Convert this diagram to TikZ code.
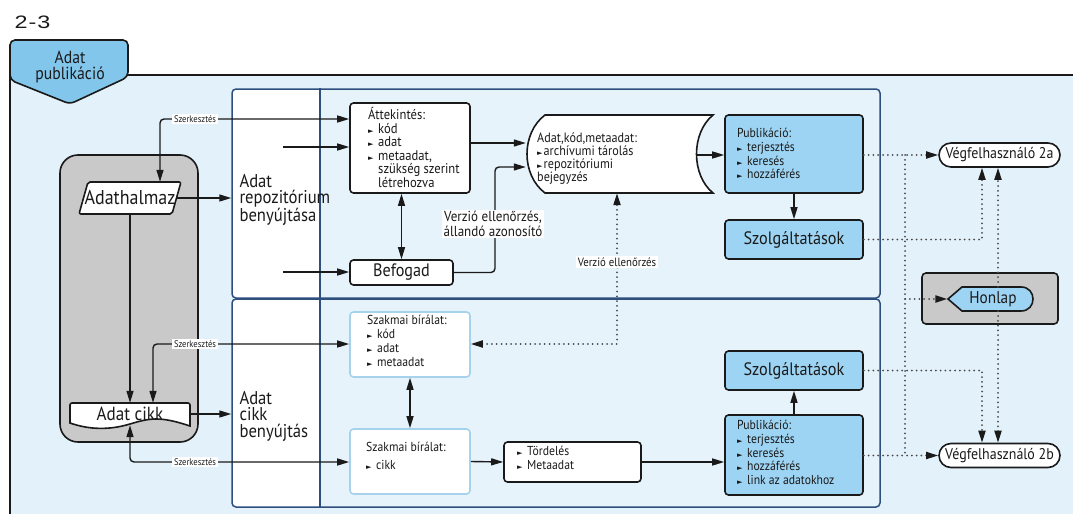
\documentclass[tikz,border=0pt]{standalone}
\usepackage{fontspec}
\setmainfont{PT Sans}[FakeStretch=0.9]
\newfontfamily\symf{DejaVu Sans}
\newfontfamily\numf{Liberation Sans}[FakeStretch=1.3]
\usetikzlibrary{arrows.meta,calc}
\definecolor{bgblue}{HTML}{E3F1FA}
\definecolor{bandbg}{HTML}{E6F3FB}
\definecolor{tabblue}{HTML}{82C6EC}
\definecolor{pubblue}{HTML}{9DD4F3}
\definecolor{grayf}{HTML}{C9C9C9}
\definecolor{bandc}{HTML}{2E4F7E}
\definecolor{szbord}{HTML}{A6D2EC}
\definecolor{linec}{HTML}{1A1A1A}
\definecolor{dotc}{HTML}{4A4A4A}
\newcommand\bul{\makebox[10pt][l]{\symf\fontsize{7}{7}\selectfont ►}}
\newcommand\bult{\makebox[6.5pt][l]{\symf\fontsize{7}{7}\selectfont ►}}
\newcommand\fsz[2]{\fontsize{#1}{#2}\selectfont}
\begin{document}
\begin{tikzpicture}[x=1pt,y=-1pt,
 every node/.style={text=linec},
 box/.style={draw=linec, line width=1.6pt, rounded corners=3.5pt, fill=white, inner sep=0pt},
 bluebox/.style={box, fill=pubblue},
 szbox/.style={box, draw=szbord},
 ghost/.style={inner sep=0pt, draw=none, fill=none},
 shp/.style={draw=linec, line width=1.6pt, fill=white},
 arr/.style={draw=linec, line width=1.4pt, -{Triangle[length=12pt,width=7pt]}},
 arrb/.style={draw=linec, line width=1.4pt, {Triangle[length=12pt,width=7pt]}-{Triangle[length=12pt,width=7pt]}},
 dots/.style={draw=dotc, line width=2pt, line cap=round, dash pattern=on 0pt off 4.8pt},
 dotarr/.style={dots, -{Triangle[length=12pt,width=7pt,color=linec]}},
 dotarrb/.style={dots, {Triangle[length=12pt,width=7pt,color=linec]}-{Triangle[length=12pt,width=7pt,color=linec]}},
 lbl/.style={fill=white, inner xsep=2pt, inner ysep=1.5pt},
 btxt/.style={ghost, anchor=west, align=left, font=\fsz{13}{13.8}},
 bandst/.style={draw=bandc, line width=1.5pt, rounded corners=4pt, inner sep=0pt},
]
\useasboundingbox (0,0) rectangle (1073,514);
% outer frame
\fill[bgblue] (10,75) rectangle (1073,514);
\draw[draw=linec, line width=1.6pt] (10,514) -- (10,75) -- (1073,75);
\node[anchor=base west, font=\numf\fsz{18}{18}] (fig) at (11,28) {2\kern1pt-\kern1pt3};
% tab
\draw[draw=linec, line width=1.6pt, fill=tabblue, rounded corners=5pt] (10,80) -- (10,40) -- (128,40) -- (128,77) -- (70,104) -- cycle;
\node[align=center, font=\fsz{17.5}{15.5}] (tab) at (70,67) {Adat\\publikáció};
% bands
\begin{scope}
\clip[rounded corners=4pt] (232,89) rectangle (880,298);
\fill[bandbg] (232,89) rectangle (880,298);
\fill[white] (232,89) rectangle (320,298);
\end{scope}
\begin{scope}
\clip[rounded corners=4pt] (232,299) rectangle (880,507);
\fill[bandbg] (232,299) rectangle (880,507);
\fill[white] (232,299) rectangle (320,507);
\end{scope}
\node[bandst, minimum width=648, minimum height=209] (band1) at (556,193.5) {};
\node[bandst, minimum width=648, minimum height=208] (band2) at (556,403) {};
\draw[draw=bandc, line width=1.5pt] (band1.north west -| 320,0) -- (band2.south west -| 320,0);
\node[anchor=west, align=left, font=\fsz{18.5}{16.5}] (bl1) at (236,200) {Adat\\repozitórium\\benyújtása};
\node[anchor=west, align=left, font=\fsz{18.5}{16.5}] (bl2) at (236,416) {Adat\\cikk\\benyújtás};
% gray container
\draw[draw=linec, line width=1.6pt, fill=grayf, rounded corners=18pt] (60,155) rectangle (198,442);
\draw[shp, rounded corners=2pt] (79,214) -- (88,182) -- (181,182) -- (172,214) -- cycle;
\node[ghost, minimum width=92, minimum height=32, font=\fsz{20}{20}] (adh) at (130,198) {Adathalmaz};
\draw[shp] (190,426) .. controls (160,416) and (150,418) .. (130,424) .. controls (110,430) and (90,430) .. (70,423) -- (70,405) [rounded corners=2pt] -- (70,403) -- (190,403) [sharp corners] -- cycle;
\node[ghost, minimum width=120, minimum height=22, font=\fsz{19}{19}] (cikk) at (130,414) {Adat cikk};
% top band boxes
\node[box, minimum width=120, minimum height=90] (att) at (410,148) {};
\node[btxt, font=\fsz{14}{13.6}] (attt) at (368,147.5) {Áttekintés:\\\bul kód\\\bul adat\\\bul metaadat,\\\hspace*{10pt}szükség szerint\\\hspace*{10pt}létrehozva};
\node[box, minimum width=103, minimum height=25, font=\fsz{18}{18}] (bef) at (401.5,272.5) {Befogad};
\draw[shp] (545,115) -- (713,115) .. controls (691,133) and (691,175) .. (713,193) -- (545,193) .. controls (521,175) and (521,133) .. (545,115) -- cycle;
\node[ghost, minimum width=187, minimum height=78] (cyl) at (619.5,154) {};
\node[btxt, font=\fsz{13.5}{13}] (cylt) at (537,158.5) {Adat,kód,metaadat:\\\bult archívumi tárolás\\\bult repozitóriumi\\bejegyzés};
\node[bluebox, minimum width=138, minimum height=78] (pub1) at (794,154) {};
\node[btxt] (pub1t) at (737,153.5) {Publikáció:\\\bul terjesztés\\\bul keresés\\\bul hozzáférés};
\node[bluebox, minimum width=138, minimum height=39, font=\fsz{18}{18}] (szo1) at (794,239.5) {Szolgáltatások};
% right side
\node[draw=linec, fill=white, line width=1.6pt, rounded corners=12pt, minimum width=121, minimum height=24, inner sep=0pt, font=\fsz{15.5}{15.5}] (v2a) at (999.5,155) {Végfelhasználó 2a};
\node[draw=linec, fill=white, line width=1.6pt, rounded corners=12pt, minimum width=121, minimum height=24, inner sep=0pt, font=\fsz{15.5}{15.5}] (v2b) at (999.5,455.5) {Végfelhasználó 2b};
\node[draw=linec, fill=grayf, line width=1.6pt, rounded corners=4pt, minimum width=136, minimum height=51, inner sep=0pt] (hgray) at (990,298.5) {};
\draw[draw=linec, line width=1.6pt, fill=pubblue] (948,299) -- (962,287) -- (1021,287) .. controls (1037,287) and (1037,311) .. (1021,311) -- (962,311) -- cycle;
\node[ghost, minimum width=85, minimum height=24, font=\fsz{17}{17}] (hon) at (990,299) {\hspace*{6pt}Honlap};
% bottom band boxes
\node[szbox, minimum width=120, minimum height=65] (szb1) at (410,344.5) {};
\node[btxt] (szb1t) at (367,341) {Szakmai bírálat:\\\bul kód\\\bul adat\\\bul metaadat};
\node[szbox, minimum width=120, minimum height=65] (szb2) at (410,461.5) {};
\node[btxt] (szb2t) at (366,456) {Szakmai bírálat:\\[4pt]\bul cikk};
\node[box, minimum width=137, minimum height=40] (tord) at (572.5,462) {};
\node[btxt] (tordt) at (517,458) {\bul Tördelés\\\bul Metaadat};
\node[bluebox, minimum width=138, minimum height=80] (pub2) at (794,455) {};
\node[btxt] (pub2t) at (737,452.5) {Publikáció:\\\bul terjesztés\\\bul keresés\\\bul hozzáférés\\\bul link az adatokhoz};
\node[bluebox, minimum width=138, minimum height=39, font=\fsz{18}{18}] (szo2) at (794,370.5) {Szolgáltatások};
% coordinates
\coordinate (c1) at (195,119);
\coordinate (c2) at (195,344);
\coordinate (c3) at (195,462);
\coordinate (in1) at (283,147);
\coordinate (in2) at (283,272);
\coordinate (c4) at (480,143);
\coordinate (k1) at (495,167);
\coordinate (cylr) at (696,155);
\coordinate (k2) at (617,344);
\coordinate (c6) at (617,262);
\coordinate (k3) at (998,299);
\coordinate (k4) at (982,299);
\coordinate (j1) at (905,155);
\coordinate (j2) at (905,455.5);
% solid connectors
\draw[arr] (adh.east) -- (adh.east -| band1.west);
\draw[arr] (cikk.east) -- (cikk.east -| band2.west);
\draw[arr] (adh.south) -- (adh.south |- cikk.north);
\draw[arrb, rounded corners=4pt] ([xshift=30pt]adh.north) |- (att.west |- c1);
\draw[arrb, rounded corners=4pt] ([xshift=23pt]cikk.north) |- (szb1.west |- c2);
\draw[arrb, rounded corners=4pt] (cikk.south) |- (szb2.west |- c3);
\draw[arr] (in1) -- (in1 -| att.west);
\draw[arr] (in2) -- (in2 -| bef.west);
\draw[arrb] (bef.north |- att.south) -- (bef.north);
\draw[arr] (att.east |- c4) -- (cyl.west |- c4);
\draw[arr, rounded corners=4pt] (bef.east) -| (k1) -- (k1 -| cyl.west);
\draw[arr] (cylr) -- (cylr -| pub1.west);
\draw[arr] (pub1.south) -- (szo1.north);
\draw[arrb] (szb1.south) -- (szb2.north);
\draw[arr] (szb2.east) -- (tord.west);
\draw[arr] (tord.east) -- (tord.east -| pub2.west);
\draw[arr] (pub2.north) -- (szo2.south);
% dotted connectors
\draw[dotarrb] (k2 -| szb1.east) -- (k2) -- (k2 |- cyl.south);
\draw[dotarr] (pub1.east |- v2a.west) -- (v2a.west);
\draw[dotarr] (pub2.east |- v2b.west) -- (v2b.west);
\draw[dots] (j1) -- (j2);
\draw[dotarr] (j1 |- hon.west) -- (hon.west);
\draw[dotarr] (szo1.east) -| (k4 |- v2a.south);
\draw[dotarr] (szo2.east) -| (k4 |- v2b.north);
\draw[dotarr] (k3 |- hon.north) -- (k3 |- v2a.south);
\draw[dotarr] (k3 |- hon.south) -- (k3 |- v2b.north);
% labels
\node[lbl, font=\fsz{9.5}{9.5}] (s1) at (c1) {Szerkesztés};
\node[lbl, font=\fsz{9.5}{9.5}] (s2) at (c2) {Szerkesztés};
\node[lbl, font=\fsz{9.5}{9.5}] (s3) at (c3) {Szerkesztés};
\node[lbl, align=center, font=\fsz{14.5}{15}] (vlab) at (493,224) {Verzió ellenőrzés,\\állandó azonosító};
\node[lbl, font=\fsz{12}{12}] (vlab2) at (c6) {Verzió ellenőrzés};
\end{tikzpicture}
\end{document}
